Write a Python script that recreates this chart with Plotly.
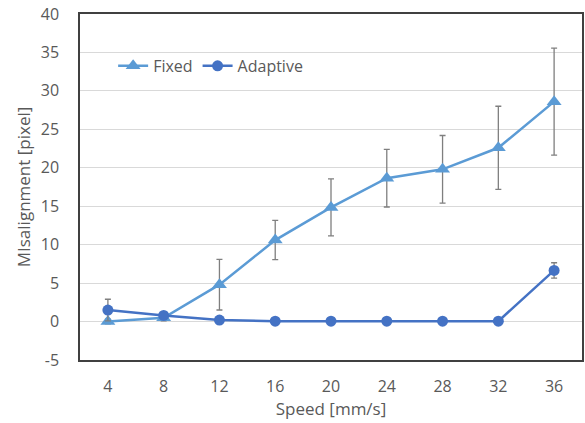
import plotly.graph_objects as go

speeds = [4, 8, 12, 16, 20, 24, 28, 32, 36]
fixed = [0.0, 0.5, 4.8, 10.6, 14.85, 18.65, 19.8, 22.6, 28.6]
fixed_err = [0.3, 0.4, 3.3, 2.55, 3.7, 3.75, 4.4, 5.4, 6.95]
adaptive = [1.5, 0.8, 0.2, 0.05, 0.05, 0.05, 0.05, 0.05, 6.65]
adaptive_err = [1.4, 0.3, 0.1, 0.05, 0.05, 0.05, 0.05, 0.05, 1.0]
yticks = [-5, 0, 5, 10, 15, 20, 25, 30, 35, 40]
yticklabels = ["-5", "0", "5", "10", "15", "20", "25", "30", "35", "40"]

font = "Open Sans, Liberation Sans, sans-serif"
txt = "#595959"

fig = go.Figure()
fig.add_trace(go.Scatter(
    x=speeds, y=fixed, name="Fixed", mode="lines+markers",
    line=dict(color="#5B9BD5", width=2.5),
    marker=dict(symbol="triangle-up", size=13, color="#5B9BD5"),
    error_y=dict(type="data", array=fixed_err, visible=True,
                 color="#7F7F7F", thickness=1.3, width=3),
))
fig.add_trace(go.Scatter(
    x=speeds, y=adaptive, name="Adaptive", mode="lines+markers",
    line=dict(color="#4472C4", width=2.5),
    marker=dict(symbol="circle", size=11, color="#4472C4"),
    error_y=dict(type="data", array=adaptive_err, visible=True,
                 color="#7F7F7F", thickness=1.3, width=3),
))

fig.update_layout(
    width=585, height=423,
    margin=dict(l=80, r=3, t=14, b=63),
    paper_bgcolor="white", plot_bgcolor="white",
    font=dict(family=font, color=txt, size=16),
    legend=dict(orientation="h", x=0.066, y=0.85, xanchor="left", yanchor="middle",
                bgcolor="rgba(0,0,0,0)", font=dict(size=16, color=txt),
                itemwidth=30, tracegroupgap=0),
    showlegend=True,
)
fig.update_xaxes(
    range=[2, 38], tickvals=speeds, ticktext=[str(s) for s in speeds],
    showgrid=False, zeroline=False, automargin=False,
    showline=True, linecolor="#404040", linewidth=1.5, mirror=True,
    ticks="outside", ticklen=11, tickcolor="rgba(0,0,0,0)",
    tickfont=dict(size=16, color=txt),
    title=dict(text="Speed [mm/s]", font=dict(size=17, color=txt), standoff=6),
)
fig.update_yaxes(
    range=[-5, 40], tickvals=yticks, ticktext=yticklabels,
    showgrid=True, gridcolor="#D9D9D9", gridwidth=1, zeroline=False, automargin=False,
    showline=True, linecolor="#404040", linewidth=1.5, mirror=True,
    ticks="outside", ticklen=16, tickcolor="rgba(0,0,0,0)",
    tickfont=dict(size=16, color=txt),
    title=dict(text="MIsalignment [pixel]", font=dict(size=17, color=txt), standoff=6),
)

# remove the page's default 8px body margin so the figure sits at the window origin
fig.write_html("out.html", config={"displayModeBar": False},
               post_script="document.body.style.margin='0';")
